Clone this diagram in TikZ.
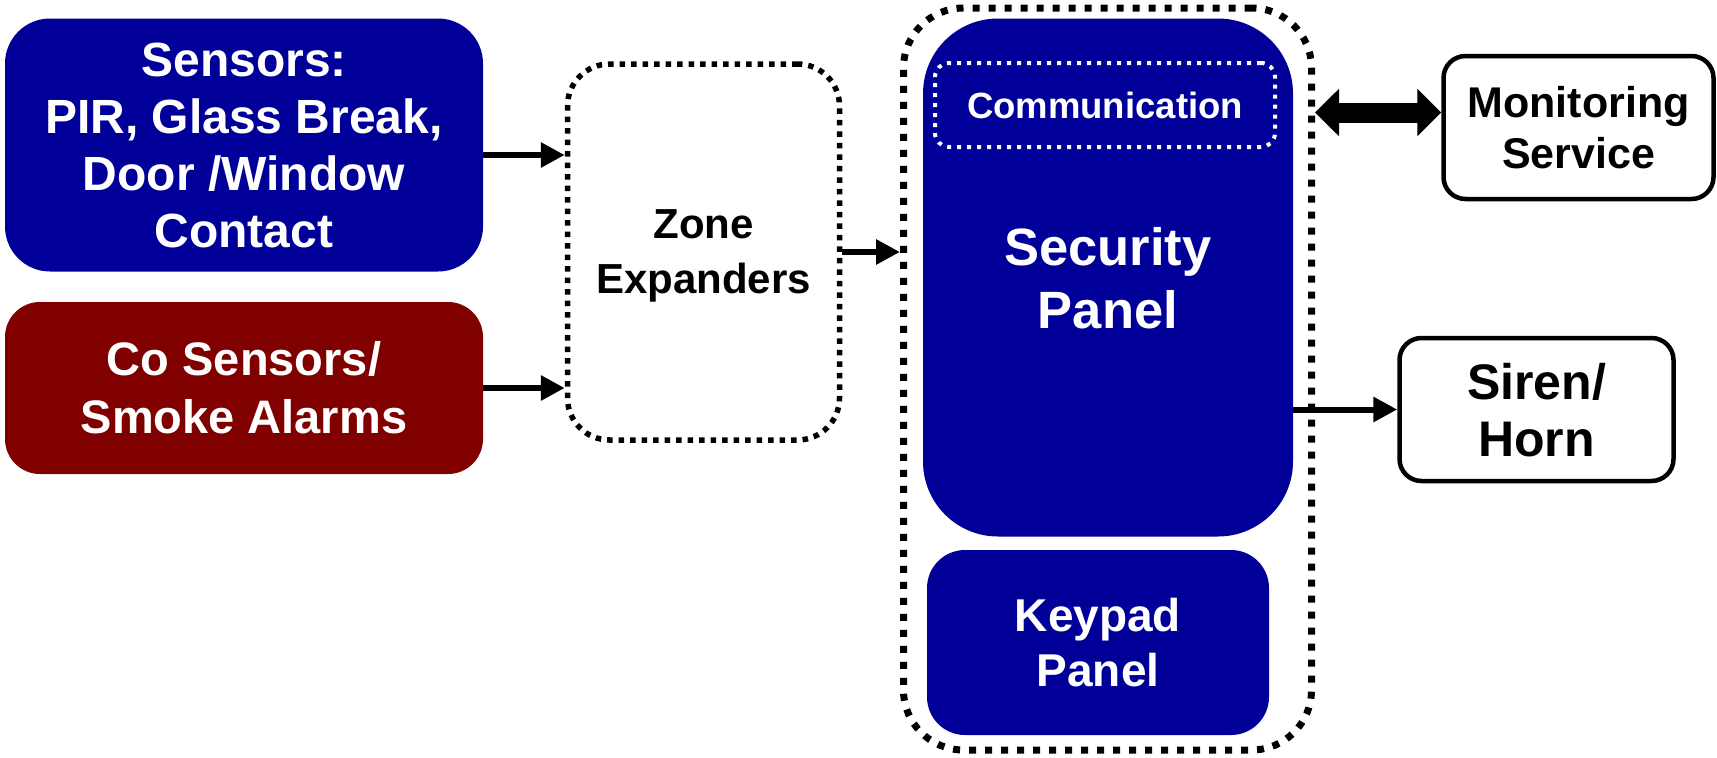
\documentclass[tikz,border=0pt]{standalone}
\usepackage{fontspec}
\setmainfont{Liberation Sans}
\usepackage{tikz}
\usetikzlibrary{arrows.meta}
\definecolor{panelblue}{RGB}{0, 0, 153}
\definecolor{alarmred}{RGB}{128, 0, 0}

\begin{document}
\begin{tikzpicture}[x=1pt, y=-1pt,
    block/.style={fill=panelblue, text=white, align=center, inner sep=0pt},
    outbox/.style={draw=black, line width=4.5pt, align=center, inner sep=0pt, rounded corners=22pt},
    conn/.style={line width=6pt, -{Triangle[length=24pt, width=24pt]}}]
    \useasboundingbox (0,0) rectangle (1717,758);

    % Security panel group (dotted frame)
    \node[draw, line width=7pt, dash pattern=on 7pt off 9pt, rounded corners=60pt,
          minimum width=408pt, minimum height=742pt] (group) at (1107.5,379) {};

    % Sensor inputs
    \node[block, rounded corners=45pt, minimum width=478pt, minimum height=253pt,
          font=\bfseries\fontsize{48}{57}\selectfont] (sensors) at (244,145)
        {Sensors:\\PIR, Glass Break,\\Door /Window\\Contact};
    \node[block, fill=alarmred, rounded corners=35pt, minimum width=478pt, minimum height=172pt,
          font=\bfseries\fontsize{47}{58}\selectfont] (smoke) at (244,388)
        {Co Sensors/\\Smoke Alarms};

    % Zone expanders
    \node[draw, line width=5.5pt, dash pattern=on 5.5pt off 6pt, rounded corners=42pt,
          align=center, inner sep=0pt, minimum width=272pt, minimum height=376pt,
          text depth=-7pt, font=\bfseries\fontsize{42}{55}\selectfont] (zone) at (703.5,252)
        {Zone\\Expanders};

    % Panels
    \node[block, rounded corners=75pt, minimum width=370pt, minimum height=518pt,
          font=\bfseries\fontsize{52.5}{63}\selectfont, text depth=0pt] (panel) at (1108,277.5)
        {Security\\Panel};
    \node[draw=white, line width=4pt, dash pattern=on 4pt off 6pt, rounded corners=14pt,
          text=white, inner sep=0pt, minimum width=340pt, minimum height=84pt,
          font=\bfseries\fontsize{36.5}{40}\selectfont] (comm) at (1105,105)
        {Communication};
    \node[block, rounded corners=38pt, minimum width=342pt, minimum height=185pt,
          font=\bfseries\fontsize{46}{55}\selectfont] (keypad) at (1098,642.5)
        {Keypad\\Panel};

    % Outputs
    \node[outbox, minimum width=270pt, minimum height=143pt,
          font=\bfseries\fontsize{43}{51.5}\selectfont] (monitor) at (1578.5,127.5)
        {Monitoring\\Service};
    \node[outbox, minimum width=274pt, minimum height=143pt, text depth=-10pt,
          font=\bfseries\fontsize{50}{57}\selectfont] (siren) at (1536.5,409.5)
        {Siren/\\Horn};

    % Connectors
    \draw[conn] ([yshift=-10pt]sensors.east) -- ([yshift=-10pt]sensors.east -| zone.west);
    \draw[conn] (smoke.east) -- (smoke.east -| zone.west);
    \draw[conn] (zone.east) -- (zone.east -| group.west);
    \draw[line width=20pt, {Triangle[length=24pt, width=46pt]}-{Triangle[length=24pt, width=46pt]}]
        ([yshift=15pt]monitor.west -| group.east) -- ([yshift=15pt]monitor.west);
    \draw[conn] (siren.west -| panel.east) -- (siren.west);
\end{tikzpicture}
\end{document}
